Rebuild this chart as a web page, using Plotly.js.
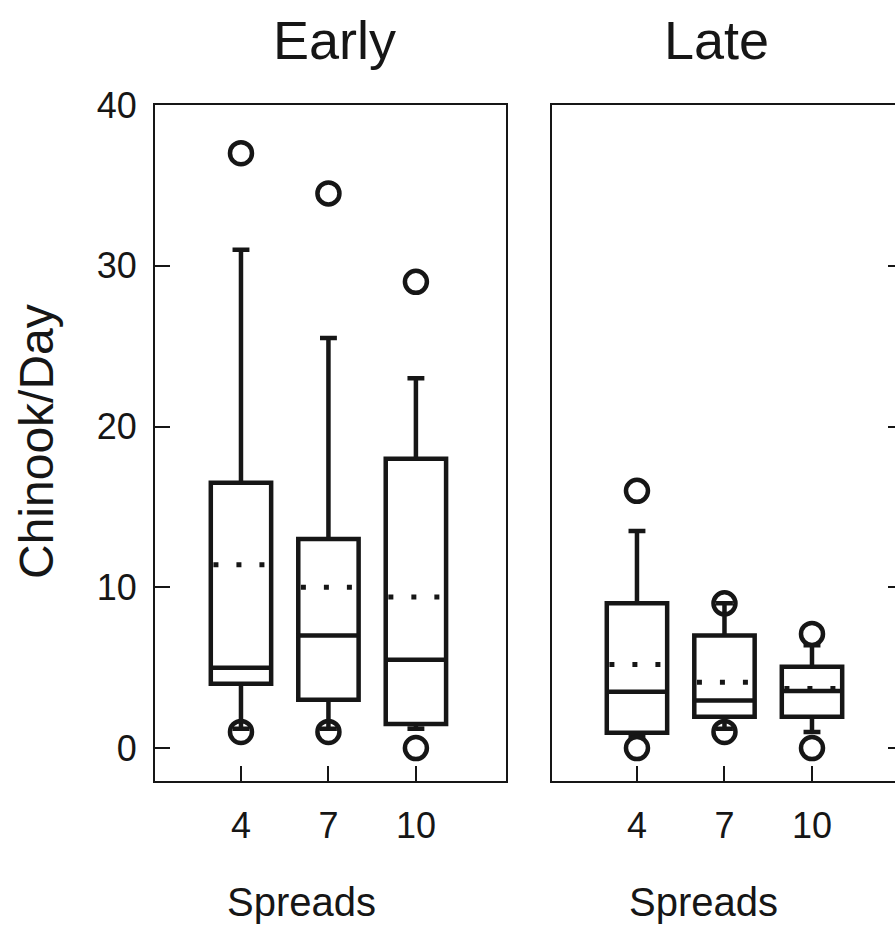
<!DOCTYPE html>
<html>
<head>
<meta charset="utf-8">
<script src="https://cdn.plot.ly/plotly-3.0.1.min.js"></script>
<style>
html,body{margin:0;padding:0;overflow:hidden;background:#fff;}
#chart{width:915px;height:932px;}
</style>
</head>
<body>
<div id="chart"></div>
<script>
// ---- data ----
var categories = [0, 1, 2];
var tickLabels = ['4', '7', '10'];

var earlyQ1      = [4.0, 3.0, 1.5];
var earlyMedian  = [5.0, 7.0, 5.5];
var earlyQ3      = [16.5, 13.0, 18.0];
var earlyLower   = [1.2, 1.2, 1.2];
var earlyUpper   = [31.0, 25.5, 23.0];
var earlyMean    = [11.4, 10.0, 9.4];
var earlyOutHigh = [37.0, 34.5, 29.0];
var earlyOutLow  = [1.0, 1.0, 0.0];

var lateQ1      = [0.95, 1.95, 1.95];
var lateMedian  = [3.5, 2.95, 3.55];
var lateQ3      = [9.0, 7.0, 5.05];
var lateLower   = [0.7, 1.2, 1.0];
var lateUpper   = [13.5, 9.0, 6.4];
var lateMean    = [5.2, 4.1, 3.7];
var lateOutHigh = [16.0, 9.0, 7.1];
var lateOutLow  = [0.0, 1.0, 0.0];

// ---- styling ----
var ink = '#161616';
var boxW = 0.69;
var FONT = 'Liberation Sans, Arial, Helvetica, sans-serif';

function boxTrace(q1, med, q3, lo, hi, xa, ya) {
  return {
    type: 'box', x: categories, q1: q1, median: med, q3: q3,
    lowerfence: lo, upperfence: hi,
    boxpoints: false, boxmean: false,
    width: boxW, whiskerwidth: 0.28,
    fillcolor: 'rgba(0,0,0,0)',
    line: {color: ink, width: 4.5},
    xaxis: xa, yaxis: ya, showlegend: false, hoverinfo: 'skip'
  };
}
function meanTrace(mean, xa, ya) {
  var xs = [], ys = [];
  for (var i = 0; i < categories.length; i++) {
    xs.push(categories[i] - boxW / 2 + 0.03, categories[i] + boxW / 2 - 0.03, null);
    ys.push(mean[i], mean[i], null);
  }
  return {
    type: 'scatter', mode: 'lines', x: xs, y: ys,
    line: {color: ink, width: 5, dash: '5px,18px'},
    xaxis: xa, yaxis: ya, showlegend: false, hoverinfo: 'skip'
  };
}
function pointTrace(vals, xa, ya) {
  return {
    type: 'scatter', mode: 'markers', x: categories, y: vals,
    marker: {symbol: 'circle-open', size: 22, color: ink, line: {width: 4.5, color: ink}},
    xaxis: xa, yaxis: ya, showlegend: false, hoverinfo: 'skip', cliponaxis: false
  };
}

var data = [
  boxTrace(earlyQ1, earlyMedian, earlyQ3, earlyLower, earlyUpper, 'x', 'y'),
  meanTrace(earlyMean, 'x', 'y'),
  pointTrace(earlyOutHigh, 'x', 'y'),
  pointTrace(earlyOutLow, 'x', 'y'),
  boxTrace(lateQ1, lateMedian, lateQ3, lateLower, lateUpper, 'x2', 'y2'),
  meanTrace(lateMean, 'x2', 'y2'),
  pointTrace(lateOutHigh, 'x2', 'y2'),
  pointTrace(lateOutLow, 'x2', 'y2')
];

var W = 915, H = 932;
var axisCommon = {
  showgrid: false, zeroline: false, showline: true, linecolor: ink, linewidth: 2,
  ticks: 'inside', ticklen: 15, tickwidth: 2, tickcolor: ink,
  tickfont: {family: FONT, size: 36, color: ink}
};
var yDomain = [1 - 781 / H, 1 - 105 / H];

var layout = {
  width: W, height: H,
  margin: {l: 0, r: 0, t: 0, b: 0},
  paper_bgcolor: '#fff', plot_bgcolor: '#fff',
  font: {family: FONT, color: ink},
  xaxis: Object.assign({}, axisCommon, {
    domain: [155 / W, 506 / W], range: [-0.983, 3.03], anchor: 'y',
    tickmode: 'array', tickvals: categories, ticktext: tickLabels,
    mirror: true, ticklabelstandoff: 12
  }),
  yaxis: Object.assign({}, axisCommon, {
    domain: yDomain, range: [-2.05, 40], anchor: 'x',
    tickmode: 'array', tickvals: [0, 10, 20, 30, 40], mirror: true, ticklabelstandoff: 9
  }),
  xaxis2: Object.assign({}, axisCommon, {
    domain: [552 / W, 903 / W], range: [-0.971, 3.04], anchor: 'y2',
    tickmode: 'array', tickvals: categories, ticktext: tickLabels,
    mirror: true, ticklabelstandoff: 12
  }),
  yaxis2: Object.assign({}, axisCommon, {
    domain: yDomain, range: [-2.05, 40], anchor: 'x2', side: 'right',
    tickmode: 'array', tickvals: [0, 10, 20, 30, 40], mirror: true, showticklabels: false
  }),
  annotations: [
    {text: 'Early', xref: 'paper', yref: 'paper', x: 334 / W, y: 1 - 40 / H,
     xanchor: 'center', yanchor: 'middle', showarrow: false, font: {family: FONT, size: 54, color: ink}},
    {text: 'Late', xref: 'paper', yref: 'paper', x: 716 / W, y: 1 - 40 / H,
     xanchor: 'center', yanchor: 'middle', showarrow: false, font: {family: FONT, size: 54, color: ink}},
    {text: 'Spreads', xref: 'paper', yref: 'paper', x: 301 / W, y: 1 - 902 / H,
     xanchor: 'center', yanchor: 'middle', showarrow: false, font: {family: FONT, size: 40, color: ink}},
    {text: 'Spreads', xref: 'paper', yref: 'paper', x: 703 / W, y: 1 - 902 / H,
     xanchor: 'center', yanchor: 'middle', showarrow: false, font: {family: FONT, size: 40, color: ink}},
    {text: 'Chinook/Day', xref: 'paper', yref: 'paper', x: 37 / W, y: 1 - 442 / H, textangle: -90,
     xanchor: 'center', yanchor: 'middle', showarrow: false, font: {family: FONT, size: 48, color: ink}}
  ]
};

Plotly.newPlot('chart', data, layout, {staticPlot: true, displayModeBar: false});
</script>
</body>
</html>
